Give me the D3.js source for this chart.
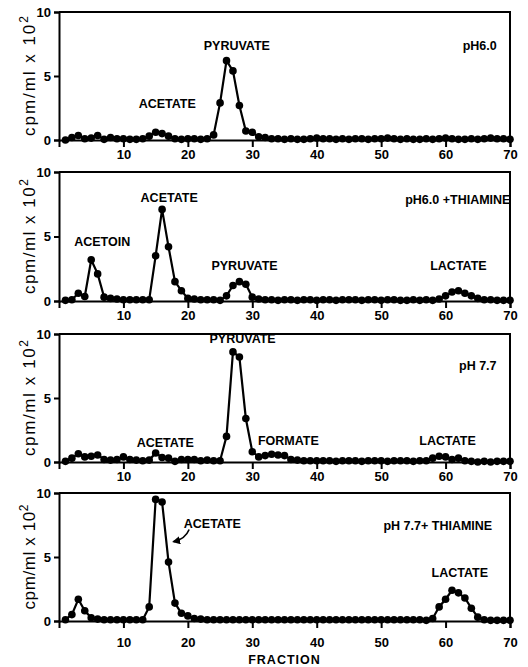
<!DOCTYPE html>
<html>
<head>
    <title>Fraction profiles</title>
    <style>
        body { margin: 0; background: #fff; }
        text { font-family: "Liberation Sans", Arial, sans-serif; fill: #000; }
        .lbl { font-weight: bold; font-size: 12.5px; }
        .tick text { font-weight: bold; font-size: 13px; font-family: "Liberation Sans", Arial, sans-serif; }
    </style>
    <script src="https://cdn.jsdelivr.net/npm/d3@7"></script>
</head>
<body>
    <svg id="chart"></svg>

    <script>
        // fraction numbers and cpm/ml x 10^2 per fraction
        const fractions = d3.range(1, 71);
        const ph60 = [0.0,0.2,0.35,0.1,0.15,0.35,0.05,0.2,0.1,0.1,
            0.05,0.05,0.1,0.3,0.6,0.5,0.3,0.1,0.05,0.1,
            0.1,0.05,0.1,0.4,2.9,6.2,5.4,2.7,0.7,0.6,
            0.25,0.2,0.1,0.1,0.05,0.1,0.05,0.05,0.1,0.15,
            0.1,0.1,0.05,0.1,0.05,0.1,0.1,0.05,0.1,0.1,
            0.15,0.1,0.05,0.1,0.05,0.05,0.1,0.05,0.1,0.15,
            0.1,0.05,0.05,0.1,0.05,0.1,0.15,0.1,0.1,0.05];
        const ph60Thiamine = [0.05,0.1,0.6,0.35,3.2,2.1,0.3,0.2,0.15,0.1,
            0.1,0.1,0.1,0.1,3.5,7.1,4.2,1.5,0.8,0.2,
            0.15,0.1,0.1,0.1,0.05,0.4,1.2,1.5,1.3,0.3,
            0.15,0.1,0.1,0.05,0.1,0.1,0.05,0.1,0.1,0.05,
            0.1,0.1,0.05,0.1,0.1,0.1,0.05,0.1,0.1,0.05,
            0.1,0.1,0.05,0.05,0.1,0.05,0.1,0.05,0.15,0.4,
            0.7,0.8,0.6,0.4,0.2,0.1,0.1,0.05,0.05,0.05];
        const ph77 = [0.05,0.3,0.65,0.4,0.45,0.55,0.2,0.15,0.2,0.4,
            0.2,0.15,0.1,0.15,0.7,0.35,0.3,0.05,0.2,0.2,
            0.2,0.1,0.15,0.1,0.1,2.0,8.6,8.2,3.4,0.8,
            0.4,0.5,0.6,0.55,0.5,0.2,0.15,0.1,0.1,0.1,
            0.1,0.1,0.05,0.1,0.1,0.1,0.05,0.1,0.1,0.1,
            0.05,0.1,0.1,0.1,0.05,0.1,0.1,0.3,0.45,0.4,
            0.2,0.3,0.1,0.05,0.0,0.05,0.0,0.05,0.05,0.05];
        const ph77Thiamine = [0.1,0.5,1.7,0.8,0.25,0.15,0.1,0.1,0.1,0.1,
            0.1,0.1,0.1,1.1,9.5,9.3,4.6,1.4,0.6,0.4,
            0.2,0.15,0.1,0.1,0.1,0.1,0.1,0.1,0.1,0.1,
            0.1,0.1,0.1,0.1,0.1,0.1,0.1,0.1,0.1,0.1,
            0.1,0.1,0.1,0.1,0.1,0.1,0.1,0.1,0.1,0.1,
            0.1,0.1,0.1,0.1,0.1,0.1,0.05,0.2,1.1,1.7,
            2.4,2.2,1.8,1.0,0.3,0.1,0.05,0.05,0.05,0.05];

        const xTicks = [10, 20, 30, 40, 50, 60, 70];
        const yTicks = [0, 5, 10];

        // peak labels: [text, fraction, value]
        const labels60 = [["PYRUVATE", 27.6, 7.0], ["ACETATE", 16.8, 2.5], ["pH6.0", 65.3, 7.0]];
        const labels60T = [["ACETATE", 17.1, 7.65], ["ACETOIN", 6.7, 4.3], ["PYRUVATE", 28.8, 2.4],
            ["LACTATE", 62.0, 2.4], ["pH6.0 +THIAMINE", 61.9, 7.5]];
        const labels77 = [["PYRUVATE", 28.5, 9.3], ["pH 7.7", 65, 7.2], ["ACETATE", 16.5, 1.2],
            ["FORMATE", 35.6, 1.33], ["LACTATE", 60.3, 1.33]];
        const labels77T = [["ACETATE", 23.8, 7.27], ["pH 7.7+ THIAMINE", 58.8, 7.1], ["LACTATE", 62.2, 3.4]];

        const width = 528, height = 667;
        const svg = d3.select('#chart').attr('width', width).attr('height', height);

        const x = d3.scaleLinear().domain([0, 70]).range([59, 510]);

        const panels = [
            {values: ph60, labels: labels60, top: 12, bottom: 140, pad: 3, titleLen: 120},
            {values: ph60Thiamine, labels: labels60T, top: 172, bottom: 301, pad: 3, titleLen: 115},
            {values: ph77, labels: labels77, top: 334, bottom: 462, pad: 3, titleLen: 116},
            {values: ph77Thiamine, labels: labels77T, top: 493, bottom: 621, pad: 10, titleLen: 105}
        ];

        svg.append('defs').append('marker')
            .attr('id', 'arrow').attr('viewBox', '0 0 10 10')
            .attr('refX', 8).attr('refY', 5)
            .attr('markerWidth', 5).attr('markerHeight', 5)
            .attr('orient', 'auto')
            .append('path').attr('d', 'M0,0L10,5L0,10z').attr('fill', '#000');

        panels.forEach((p, i) => {
            const y = d3.scaleLinear().domain([0, 10]).range([p.bottom, p.top]);
            const g = svg.append('g');

            // frame
            g.append('path')
                .attr('d', `M${x(0)},${y(10)}H${x(70)}V${y(0)}`)
                .attr('fill', 'none').attr('stroke', '#000').attr('stroke-width', 2);

            const xa = g.append('g')
                .attr('transform', `translate(0,${y(0)})`)
                .call(d3.axisBottom(x).tickValues(xTicks).tickSize(7).tickPadding(p.pad));
            const ya = g.append('g')
                .attr('transform', `translate(${x(0)},0)`)
                .call(d3.axisLeft(y).tickValues(yTicks).tickSize(5).tickPadding(3));
            [xa, ya].forEach(a => {
                a.selectAll('path, line').attr('stroke', '#000').attr('stroke-width', 2);
            });

            // y title
            const t = g.append('text')
                .attr('transform', `translate(35,${(p.top + p.bottom) / 2}) rotate(-90)`)
                .attr('text-anchor', 'middle')
                .attr('font-size', 17)
                .attr('textLength', p.titleLen)
                .attr('lengthAdjust', 'spacing');
            t.append('tspan').text('cpm/ml x 10');
            t.append('tspan').attr('dy', -7).attr('font-size', 12).text('2');

            const pts = fractions.map((f, j) => [f, p.values[j]]);

            g.append('path')
                .datum(pts)
                .attr('fill', 'none')
                .attr('stroke', '#000')
                .attr('stroke-width', 2.2)
                .attr('d', d3.line().x(d => x(d[0])).y(d => y(d[1])));

            g.selectAll('circle')
                .data(pts)
                .enter().append('circle')
                .attr('cx', d => x(d[0]))
                .attr('cy', d => y(d[1]))
                .attr('r', 3.8)
                .attr('fill', '#000');

            g.selectAll('text.lbl')
                .data(p.labels)
                .enter().append('text')
                .attr('class', 'lbl')
                .attr('text-anchor', 'middle')
                .attr('x', d => x(d[1]))
                .attr('y', d => y(d[2]))
                .text(d => d[0]);

            if (i === 3) {
                // arrow from ACETATE label to the peak
                g.append('path')
                    .attr('d', `M${x(20.2)},${y(7.15)} Q${x(19.6)},${y(6.4)} ${x(17.8)},${y(6.2)}`)
                    .attr('fill', 'none').attr('stroke', '#000').attr('stroke-width', 1.6)
                    .attr('marker-end', 'url(#arrow)');

                g.append('text')
                    .attr('class', 'lbl')
                    .attr('text-anchor', 'middle')
                    .attr('x', x(35))
                    .attr('y', 664)
                    .attr('font-size', 13)
                    .attr('letter-spacing', 1)
                    .text('FRACTION');
            }
        });
    </script>
</body>
</html>
